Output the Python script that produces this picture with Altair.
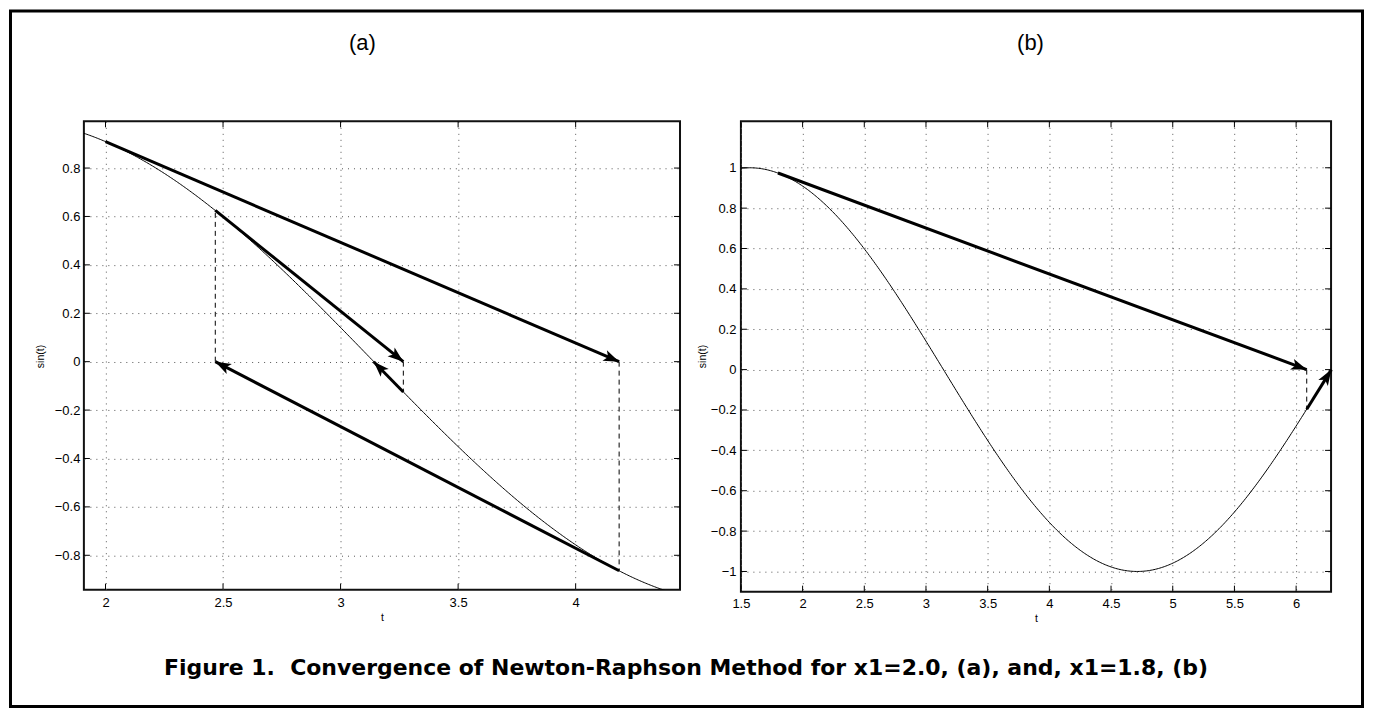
import math
import altair as alt
import pandas as pd

# ---------------- data ----------------
# panel (a): x1 = 2.0
a_t_range = [1.908, 4.444]
a_y_range = [-0.942, 0.993]
a_xticks = [2, 2.5, 3, 3.5, 4]
a_yticks = [-0.8, -0.6, -0.4, -0.2, 0, 0.2, 0.4, 0.6, 0.8]
a_iter_x = [2.0, 4.185, 2.467, 3.267, 3.141]
a_iter_y = [0.909, -0.864, 0.625, -0.125]

# panel (b): x1 = 1.8
b_t_range = [1.5, 6.2832]
b_y_range = [-1.1, 1.23]
b_xticks = [1.5, 2, 2.5, 3, 3.5, 4, 4.5, 5, 5.5, 6]
b_yticks = [-1, -0.8, -0.6, -0.4, -0.2, 0, 0.2, 0.4, 0.6, 0.8, 1]
b_iter_x = [1.8, 6.086, 6.286]
b_iter_y = [0.974, -0.196]

titles = ["(a)", "(b)"]
caption = "Figure 1.\u00a0 Convergence of Newton-Raphson Method for x1=2.0, (a), and, x1=1.8, (b)"

# ---------------- layout / style ----------------
A_W, A_H = 597, 469
B_W, B_H = 591, 471
GAP = 61
FONT = "Liberation Sans"
ARROW = "M0,0L-0.75,2.1L0,1.6L0.75,2.1Z"
one = pd.DataFrame({"k": [0]})


def panel(t_range, y_range, xticks, yticks, iter_x, iter_y, W, H,
          ytitle_x, xtitle_y, xlab_pad, ylab_pad):
    xs = alt.Scale(domain=t_range, nice=False, zero=False)
    ys = alt.Scale(domain=y_range, nice=False, zero=False)
    ax = alt.Axis(values=xticks, grid=True, ticks=False, tickSize=0, domain=False,
                  format="~g", labelPadding=xlab_pad, labelFlush=False,
                  titleX=W / 2, titleY=xtitle_y, titleBaseline="middle")
    ay = alt.Axis(values=yticks, grid=True, ticks=False, tickSize=0, domain=False,
                  format="~g", labelPadding=ylab_pad, labelFlush=False,
                  titleX=ytitle_x, titleY=235, titleBaseline="middle", titleAngle=270)

    def X(f):
        return alt.X(f, scale=xs, axis=ax, title="t")

    def Y(f):
        return alt.Y(f, scale=ys, axis=ay, title="sin(t)")

    step = (t_range[1] - t_range[0]) / 400
    curve = alt.Chart(alt.sequence(t_range[0], t_range[1] + step, step, as_="t")).transform_calculate(
        s="sin(datum.t)"
    ).mark_line(color="black", strokeWidth=1, clip=True).encode(x=X("t:Q"), y=Y("s:Q"))

    rows = []
    for i in range(len(iter_y)):
        x0, y0, x1, y1 = iter_x[i], iter_y[i], iter_x[i + 1], 0.0
        dxp = (x1 - x0) * W / (t_range[1] - t_range[0])
        dyp = -(y1 - y0) * H / (y_range[1] - y_range[0])
        ang = math.degrees(math.atan2(dxp, -dyp)) % 360
        rows.append({"x0": x0, "y0": y0, "x1": x1, "y1": y1, "ang": ang})
    arr = pd.DataFrame(rows)

    shafts = alt.Chart(arr).mark_rule(color="black", strokeWidth=3).encode(
        x=X("x0:Q"), y=Y("y0:Q"), x2="x1:Q", y2="y1:Q")
    heads = alt.Chart(arr).mark_point(shape=ARROW, size=225, filled=True, color="black",
                                      opacity=1, strokeWidth=0).encode(
        x=X("x1:Q"), y=Y("y1:Q"), angle=alt.Angle("ang:Q", scale=None))

    dash = pd.DataFrame({"x": iter_x[1:len(iter_y)], "y0": [0.0] * (len(iter_y) - 1),
                         "y1": iter_y[1:]})
    dashed = alt.Chart(dash).mark_rule(color="black", strokeWidth=1, strokeDash=[5, 4]).encode(
        x=X("x:Q"), y=Y("y0:Q"), y2="y1:Q")

    xt = pd.DataFrame({"v": xticks})
    yt = pd.DataFrame({"v": yticks})
    tb = alt.Chart(xt).mark_rule(color="black", strokeWidth=1).encode(
        x=X("v:Q"), y=alt.value(H), y2=alt.value(H - 6))
    tt = alt.Chart(xt).mark_rule(color="black", strokeWidth=1).encode(
        x=X("v:Q"), y=alt.value(0), y2=alt.value(6))
    tl = alt.Chart(yt).mark_rule(color="black", strokeWidth=1).encode(
        y=Y("v:Q"), x=alt.value(0), x2=alt.value(6))
    tr = alt.Chart(yt).mark_rule(color="black", strokeWidth=1).encode(
        y=Y("v:Q"), x=alt.value(W - 6), x2=alt.value(W))

    return [curve, dashed, shafts, heads, tb, tt, tl, tr]


la = panel(a_t_range, a_y_range, a_xticks, a_yticks, a_iter_x, a_iter_y, A_W, A_H,
           -43, 28, 7, 4)
lb = panel(b_t_range, b_y_range, b_xticks, b_yticks, b_iter_x, b_iter_y, B_W, B_H,
           -38, 27, 6, 5)

# decorations in panel (a) coordinates (plot origin at page 83,120)
border = alt.Chart(one).mark_rect(fillOpacity=0, stroke="black", strokeWidth=3).encode(
    x=alt.value(-73.5), x2=alt.value(1280.5), y=alt.value(-110.5), y2=alt.value(586))
cap = alt.Chart(one).mark_text(font="DejaVu Sans", fontWeight="bold", fontSize=22,
                               align="center", baseline="middle", color="black").encode(
    x=alt.value(603), y=alt.value(547), text=alt.value(caption))
ta = alt.Chart(one).mark_text(font=FONT, fontSize=22, align="center", baseline="middle",
                              color="black").encode(
    x=alt.value(279), y=alt.value(-78), text=alt.value(titles[0]))
tb_ = alt.Chart(one).mark_text(font=FONT, fontSize=22, align="center", baseline="middle",
                               color="black").encode(
    x=alt.value(290), y=alt.value(-78), text=alt.value(titles[1]))

A = alt.layer(*la, border, cap, ta).properties(width=A_W, height=A_H)
B = alt.layer(*lb, tb_).properties(width=B_W, height=B_H)

chart = alt.hconcat(A, B, spacing=GAP, bounds="flush").properties(
    padding=0
).configure_view(
    stroke="#111", strokeWidth=2
).configure_axis(
    labelFont=FONT, labelFontSize=13, labelColor="black",
    titleFont=FONT, titleFontSize=10.5, titleFontWeight="normal", titleColor="black",
    gridColor="#555", gridDash=[1, 5], gridWidth=1, gridOpacity=1,
)

chart.save("out.html", embed_options={"renderer": "svg", "actions": False})
